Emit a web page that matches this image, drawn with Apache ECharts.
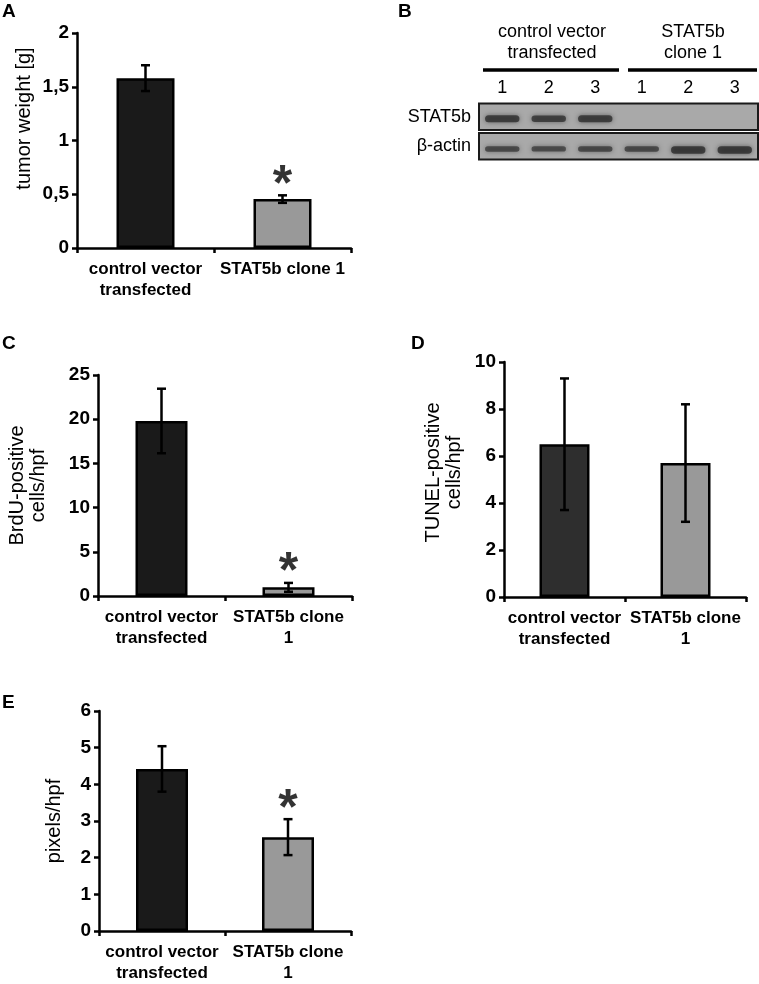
<!DOCTYPE html>
<html>
<head>
<meta charset="utf-8">
<script src="https://cdn.jsdelivr.net/npm/echarts@6/dist/echarts.min.js"></script>
<style>
html,body{margin:0;padding:0;background:#fff;}
#chart{width:759px;height:984px;}
</style>
</head>
<body>
<div id="chart"></div>
<script>
// ---------- data ----------
const catsA = ['control vector\ntransfected', 'STAT5b clone 1'];
const catsCDE = ['control vector\ntransfected', 'STAT5b clone\n1'];

const weightMean = [1.58, 0.455];
const weightErr = [0.12, 0.035];
const weightSig = [null, 0.70];

const brduMean = [19.8, 0.98];
const brduErr = [3.65, 0.5];
const brduSig = [null, 4.1];

const tunelMean = [6.5, 5.7];
const tunelErr = [2.8, 2.5];

const pixelMean = [4.42, 2.56];
const pixelErr = [0.62, 0.49];
const pixelSig = [null, 3.65];

const blotRows = ['STAT5b', 'β-actin'];
const laneLabels = ['1', '2', '3', '1', '2', '3'];
const stat5bBand = [0.9, 0.85, 0.9, 0, 0, 0];
const actinBand = [0.7, 0.68, 0.72, 0.72, 0.95, 0.95];

// ---------- helpers ----------
const FONT = 'Liberation Sans, Arial, sans-serif';
const DARK = '#1a1a1a';
const GREY = '#999999';

function errData(mean, err) {
  return mean.map((m, i) => [i, m - err[i], m + err[i]]);
}
function sigData(sig) {
  const out = [];
  sig.forEach((v, i) => { if (v != null) out.push([i, v]); });
  return out;
}
function errRender(params, api) {
  const x = api.value(0);
  const lo = api.coord([x, api.value(1)]);
  const hi = api.coord([x, api.value(2)]);
  const cap = 4.5;
  const st = { stroke: '#000', lineWidth: 2.5 };
  return {
    type: 'group',
    children: [
      { type: 'line', shape: { x1: hi[0], y1: hi[1], x2: lo[0], y2: lo[1] }, style: st },
      { type: 'line', shape: { x1: hi[0] - cap, y1: hi[1], x2: hi[0] + cap, y2: hi[1] }, style: st },
      { type: 'line', shape: { x1: lo[0] - cap, y1: lo[1], x2: lo[0] + cap, y2: lo[1] }, style: st }
    ]
  };
}

const grids = [
  { left: 77, top: 33, width: 274, height: 215 },   // A
  { left: 98, top: 375, width: 254, height: 221 },  // C
  { left: 504, top: 362, width: 242, height: 235 }, // D
  { left: 99, top: 711, width: 252, height: 225 },  // E
  { left: 479, top: 102, width: 279, height: 59 }   // B blot
];

function xAxisFor(gi, cats) {
  return {
    type: 'category', gridIndex: gi, data: cats,
    axisLine: { lineStyle: { color: '#000', width: 2.5 } },
    axisTick: { show: true, length: 5, lineStyle: { color: '#000', width: 2.5 } },
    axisLabel: { color: '#000', fontFamily: FONT, fontSize: 17, fontWeight: 'bold', lineHeight: 21, margin: 11, interval: 0 },
    splitLine: { show: false }
  };
}
function yAxisFor(gi, max, interval, name, nameGap, pad, fmt) {
  return {
    type: 'value', gridIndex: gi, min: 0, max: max, interval: interval,
    name: name, nameLocation: 'middle', nameGap: nameGap, nameRotate: 90,
    nameTextStyle: { color: '#000', fontFamily: FONT, fontSize: 20, lineHeight: 21, padding: pad },
    axisLine: { show: true, lineStyle: { color: '#000', width: 2.5 } },
    axisTick: { show: true, length: 5, lineStyle: { color: '#000', width: 2.5 } },
    axisLabel: { color: '#000', fontFamily: FONT, fontSize: 19, fontWeight: 'bold', margin: 8, formatter: fmt },
    splitLine: { show: false }
  };
}

function barSeries(gi, mean, colors, width) {
  return {
    type: 'bar', xAxisIndex: gi, yAxisIndex: gi, barWidth: width,
    data: mean.map((v, i) => ({ value: v, itemStyle: { color: colors[i] } })),
    itemStyle: { borderColor: '#000', borderWidth: 2.5 },
    z: 2
  };
}
function errSeries(gi, mean, err) {
  return { type: 'custom', xAxisIndex: gi, yAxisIndex: gi, data: errData(mean, err), renderItem: errRender, z: 5 };
}
function sigSeries(gi, sig) {
  return {
    type: 'scatter', xAxisIndex: gi, yAxisIndex: gi, data: sigData(sig),
    symbol: 'circle', symbolSize: 1, itemStyle: { color: 'rgba(0,0,0,0)' },
    label: { show: true, position: 'inside', formatter: '*', color: '#000', fontFamily: FONT, fontWeight: 'bold', fontSize: 50, offset: [0, 13] },
    z: 6
  };
}

// blot rendering
const blotBandData = [];
stat5bBand.forEach((v, i) => blotBandData.push([i, 0, v]));
actinBand.forEach((v, i) => blotBandData.push([i, 1, v]));

function blotBoxRender(params, api) {
  const cs = params.coordSys;
  const row = api.value(0);
  const c = api.coord([0, row]);
  const bh = api.size([0, 1])[1];
  const h = bh - 3;
  return {
    type: 'rect',
    shape: { x: cs.x, y: c[1] - h / 2, width: cs.width, height: h },
    style: { fill: '#a9a9a9', stroke: '#1a1a1a', lineWidth: 2 }
  };
}
function blotBandRender(params, api) {
  const v = api.value(2);
  if (!v) return null;
  const c = api.coord([api.value(0), api.value(1)]);
  const lw = api.size([1, 0])[0];
  const w = lw * 0.74;
  const h = 3 + 5 * v * v;
  const dy = api.value(1) === 0 ? 2 : 1.5 + 2.5 * v * v;
  return {
    type: 'rect',
    shape: { x: c[0] - w / 2, y: c[1] + dy - h / 2, width: w, height: h, r: h / 2 },
    style: { fill: 'rgba(40,40,40,' + (0.3 + 0.5 * v) + ')', shadowBlur: 5, shadowColor: 'rgba(50,50,50,0.8)' }
  };
}

const commaFmt = v => String(v).replace('.', ',');

const option = {
  animation: false,
  backgroundColor: '#fff',
  textStyle: { fontFamily: FONT },
  grid: grids,
  xAxis: [
    xAxisFor(0, catsA),
    xAxisFor(1, catsCDE),
    xAxisFor(2, catsCDE),
    xAxisFor(3, catsCDE),
    {
      type: 'category', gridIndex: 4, position: 'top',
      data: laneLabels.map((l, i) => 'lane' + i),
      axisLine: { show: false }, axisTick: { show: false },
      axisLabel: { color: '#000', fontFamily: FONT, fontSize: 18, margin: 5, formatter: (v, i) => laneLabels[i] }
    }
  ],
  yAxis: [
    yAxisFor(0, 2, 0.5, 'tumor weight [g]', 42, [0, 0, 0, 44], commaFmt),
    yAxisFor(1, 25, 5, 'BrdU-positive\ncells/hpf', 49, 0, null),
    yAxisFor(2, 10, 2, 'TUNEL-positive\ncells/hpf', 39, [0, 0, 0, 14], null),
    yAxisFor(3, 6, 1, 'pixels/hpf', 34, 0, null),
    {
      type: 'category', gridIndex: 4, inverse: true, data: blotRows,
      axisLine: { show: false }, axisTick: { show: false },
      axisLabel: { color: '#000', fontFamily: FONT, fontSize: 18, margin: 8 }
    }
  ],
  series: [
    barSeries(0, weightMean, [DARK, GREY], 58),
    errSeries(0, weightMean, weightErr),
    sigSeries(0, weightSig),
    barSeries(1, brduMean, [DARK, GREY], 52),
    errSeries(1, brduMean, brduErr),
    sigSeries(1, brduSig),
    barSeries(2, tunelMean, ['#2e2e2e', GREY], 50),
    errSeries(2, tunelMean, tunelErr),
    barSeries(3, pixelMean, [DARK, GREY], 52),
    errSeries(3, pixelMean, pixelErr),
    sigSeries(3, pixelSig),
    {
      type: 'custom', xAxisIndex: 4, yAxisIndex: 4,
      data: blotRows.map((r, i) => [i]),
      encode: { y: 0 },
      renderItem: blotBoxRender, z: 1
    },
    {
      type: 'custom', xAxisIndex: 4, yAxisIndex: 4,
      data: blotBandData, encode: { x: 0, y: 1 },
      renderItem: blotBandRender, z: 2
    }
  ],
  graphic: [
    { type: 'text', left: 2, top: 2, style: { text: 'A', font: 'bold 19px ' + FONT, fill: '#000' } },
    { type: 'text', left: 398, top: 2, style: { text: 'B', font: 'bold 19px ' + FONT, fill: '#000' } },
    { type: 'text', left: 2, top: 334, style: { text: 'C', font: 'bold 19px ' + FONT, fill: '#000' } },
    { type: 'text', left: 411, top: 334, style: { text: 'D', font: 'bold 19px ' + FONT, fill: '#000' } },
    { type: 'text', left: 2, top: 693, style: { text: 'E', font: 'bold 19px ' + FONT, fill: '#000' } },
    { type: 'text', x: 552, y: 43, style: { text: 'control vector\ntransfected', font: '18px ' + FONT, fill: '#000', align: 'center', verticalAlign: 'middle', lineHeight: 21 } },
    { type: 'text', x: 693, y: 43, style: { text: 'STAT5b\nclone 1', font: '18px ' + FONT, fill: '#000', align: 'center', verticalAlign: 'middle', lineHeight: 21 } },
    { type: 'line', shape: { x1: 483, y1: 70, x2: 619, y2: 70 }, style: { stroke: '#000', lineWidth: 3.5 } },
    { type: 'line', shape: { x1: 628, y1: 70, x2: 757, y2: 70 }, style: { stroke: '#000', lineWidth: 3.5 } }
  ]
};

const chart = echarts.init(document.getElementById('chart'), null, { renderer: 'canvas' });
chart.setOption(option);
</script>
</body>
</html>
